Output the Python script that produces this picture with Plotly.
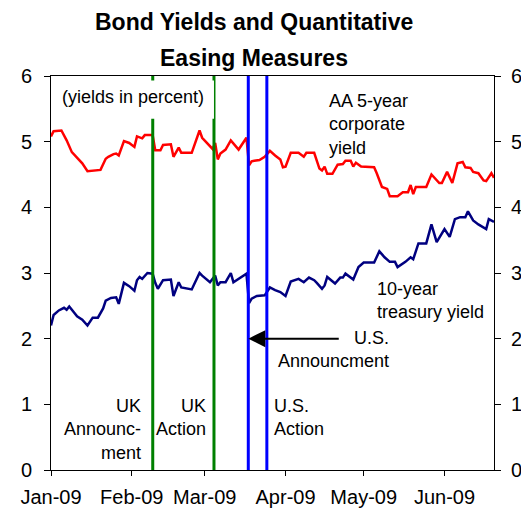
"""
Bond yields and quantitative easing measures, Jan-Jun 2009.
"""

import plotly.graph_objects as go

# AA 5-year corporate yield (percent)
corp_dates = [
    "2009-01-01", "2009-01-02", "2009-01-05", "2009-01-06", "2009-01-07", "2009-01-09",
    "2009-01-11", "2009-01-13", "2009-01-15", "2009-01-20", "2009-01-22", "2009-01-23",
    "2009-01-25", "2009-01-26", "2009-01-27", "2009-01-29", "2009-01-31", "2009-02-02",
    "2009-02-03", "2009-02-05", "2009-02-06", "2009-02-09", "2009-02-10", "2009-02-12",
    "2009-02-13", "2009-02-16", "2009-02-17", "2009-02-19", "2009-02-20", "2009-02-24",
    "2009-02-27", "2009-02-28", "2009-03-04", "2009-03-05", "2009-03-06", "2009-03-07",
    "2009-03-09", "2009-03-11", "2009-03-14", "2009-03-17", "2009-03-18", "2009-03-19",
    "2009-03-20", "2009-03-22", "2009-03-24", "2009-03-26", "2009-03-28", "2009-03-30",
    "2009-03-31", "2009-04-01", "2009-04-03", "2009-04-06", "2009-04-08", "2009-04-09",
    "2009-04-12", "2009-04-14", "2009-04-15", "2009-04-16", "2009-04-17", "2009-04-19",
    "2009-04-21", "2009-04-23", "2009-04-24", "2009-04-26", "2009-04-27", "2009-04-28",
    "2009-04-30", "2009-05-05", "2009-05-06", "2009-05-08", "2009-05-10", "2009-05-11",
    "2009-05-14", "2009-05-16", "2009-05-18", "2009-05-19", "2009-05-20", "2009-05-21",
    "2009-05-25", "2009-05-27", "2009-05-30", "2009-05-31", "2009-06-02", "2009-06-04",
    "2009-06-06", "2009-06-08", "2009-06-09", "2009-06-11", "2009-06-12", "2009-06-14",
    "2009-06-16", "2009-06-17", "2009-06-19", "2009-06-20",
]
corp_yield = [
    5.08, 5.16, 5.17, 5.10, 5.02, 4.84,
    4.76, 4.67, 4.55, 4.57, 4.74, 4.77,
    4.81, 4.82, 4.79, 5.01, 4.98, 4.92,
    5.08, 5.05, 5.10, 5.10, 4.87, 4.87,
    4.95, 4.96, 4.77, 4.91, 4.83, 4.83,
    5.17, 5.06, 4.89, 4.98, 4.73, 4.82,
    4.88, 5.02, 4.88, 5.06, 4.64, 4.70,
    4.71, 4.72, 4.77, 4.86, 4.79, 4.73,
    4.61, 4.62, 4.83, 4.83, 4.77, 4.83,
    4.83, 4.59, 4.56, 4.62, 4.51, 4.51,
    4.65, 4.66, 4.71, 4.71, 4.62, 4.68,
    4.62, 4.61, 4.52, 4.31, 4.28, 4.17,
    4.17, 4.23, 4.23, 4.34, 4.20, 4.31,
    4.31, 4.50, 4.37, 4.37, 4.54, 4.37,
    4.67, 4.69, 4.61, 4.60, 4.54, 4.52,
    4.41, 4.40, 4.52, 4.45,
]

# 10-year treasury yield (percent)
tsy_dates = [
    "2009-01-01", "2009-01-02", "2009-01-04", "2009-01-06", "2009-01-07", "2009-01-08",
    "2009-01-10", "2009-01-11", "2009-01-13", "2009-01-15", "2009-01-17", "2009-01-19",
    "2009-01-21", "2009-01-22", "2009-01-24", "2009-01-26", "2009-01-27", "2009-01-29",
    "2009-01-31", "2009-02-02", "2009-02-03", "2009-02-04", "2009-02-05", "2009-02-07",
    "2009-02-09", "2009-02-10", "2009-02-11", "2009-02-13", "2009-02-16", "2009-02-17",
    "2009-02-19", "2009-02-20", "2009-02-24", "2009-02-27", "2009-02-28", "2009-03-03",
    "2009-03-05", "2009-03-06", "2009-03-07", "2009-03-09", "2009-03-11", "2009-03-12",
    "2009-03-17", "2009-03-18", "2009-03-19", "2009-03-21", "2009-03-24", "2009-03-26",
    "2009-03-28", "2009-03-30", "2009-04-01", "2009-04-03", "2009-04-06", "2009-04-08",
    "2009-04-10", "2009-04-12", "2009-04-13", "2009-04-15", "2009-04-16", "2009-04-17",
    "2009-04-20", "2009-04-22", "2009-04-23", "2009-04-24", "2009-04-27", "2009-04-29",
    "2009-05-01", "2009-05-05", "2009-05-07", "2009-05-09", "2009-05-11", "2009-05-13",
    "2009-05-14", "2009-05-17", "2009-05-19", "2009-05-20", "2009-05-22", "2009-05-25",
    "2009-05-27", "2009-05-29", "2009-06-01", "2009-06-03", "2009-06-05", "2009-06-07",
    "2009-06-09", "2009-06-10", "2009-06-12", "2009-06-14", "2009-06-17", "2009-06-18",
    "2009-06-20",
]
tsy_yield = [
    2.20, 2.36, 2.43, 2.47, 2.44, 2.49,
    2.39, 2.34, 2.29, 2.20, 2.32, 2.32,
    2.46, 2.58, 2.62, 2.63, 2.53, 2.85,
    2.80, 2.73, 2.89, 2.94, 2.91, 3.00,
    2.99, 2.85, 2.76, 2.89, 2.90, 2.65,
    2.86, 2.78, 2.75, 3.00, 2.96, 2.86,
    2.96, 2.81, 2.86, 2.86, 3.00, 2.86,
    2.99, 2.54, 2.61, 2.65, 2.66, 2.78,
    2.74, 2.71, 2.65, 2.87, 2.91, 2.86,
    2.93, 2.89, 2.85, 2.76, 2.81, 2.94,
    2.84, 2.93, 2.93, 2.99, 2.90, 3.09,
    3.16, 3.16, 3.33, 3.24, 3.17, 3.17,
    3.09, 3.17, 3.24, 3.21, 3.45, 3.45,
    3.74, 3.47, 3.67, 3.55, 3.82, 3.85,
    3.85, 3.94, 3.80, 3.74, 3.67, 3.82,
    3.78,
]

# QE event dates
uk_events = ["2009-02-09 01:00", "2009-03-04 13:00"]
us_events = ["2009-03-17 17:00", "2009-03-24 20:00"]

FONT = "Arial, Liberation Sans, sans-serif"

fig = go.Figure()

fig.add_trace(go.Scatter(
    x=corp_dates, y=corp_yield, mode="lines",
    line=dict(color="#FF0000", width=2.5), name="AA 5-year corporate yield",
))
# Treasury line sits on the right-hand axis (same 0-6 scale) so that axis is drawn
fig.add_trace(go.Scatter(
    x=tsy_dates, y=tsy_yield, mode="lines", yaxis="y2",
    line=dict(color="#000080", width=2.5), name="10-year treasury yield",
))

# Event lines
for d in uk_events:
    fig.add_shape(type="line", xref="x", yref="y", x0=d, x1=d, y0=0, y1=6,
                  line=dict(color="#008000", width=3))
for d in us_events:
    fig.add_shape(type="line", xref="x", yref="y", x0=d, x1=d, y0=0, y1=6,
                  line=dict(color="#0000FF", width=3))

# White box behind the units label
fig.add_shape(type="rect", xref="x", yref="y", x0="2009-01-01", x1=uk_events[1],
              y0=5.35, y1=5.93, fillcolor="white", line_width=0)

# Title, two lines
for text, y in [("Bond Yields and Quantitative", 1.136), ("Easing Measures", 1.045)]:
    fig.add_annotation(text=f"<b>{text}</b>", x=0.458, y=y, xref="paper", yref="paper",
                       xanchor="center", yanchor="middle", showarrow=False,
                       font=dict(family=FONT, size=23, color="black"))

txt = dict(family=FONT, size=18, color="black")
notes = [
    ("(yields in percent)", 0.02, 0.946, "left", "left"),
    ("AA 5-year<br>corporate<br>yield", 0.623, 0.877, "left", "left"),
    ("10-year<br>treasury yield", 0.731, 0.431, "left", "left"),
    ("U.S.<br>Announcment", 0.7675, 0.305, "right", "right"),
    ("UK<br>Announc-<br>ment", 0.2077, 0.103, "right", "right"),
    ("UK<br>Action", 0.354, 0.134, "right", "right"),
    ("U.S.<br>Action", 0.4996, 0.134, "left", "left"),
]
for text, x, y, anchor, align in notes:
    fig.add_annotation(text=text, x=x, y=y, xref="paper", yref="paper",
                       xanchor=anchor, yanchor="middle", align=align,
                       showarrow=False, font=txt)

# Arrow pointing at the U.S. announcement
fig.add_annotation(x=us_events[0], y=2, ax="2009-04-22", ay=2,
                   xref="x", yref="y", axref="x", ayref="y", text="",
                   showarrow=True, arrowhead=2, arrowsize=1.7, arrowwidth=2,
                   arrowcolor="black")

axis_font = dict(family=FONT, size=20, color="black")

fig.update_layout(
    width=521, height=512,
    margin=dict(l=51, r=27, t=76, b=42),
    plot_bgcolor="white", paper_bgcolor="white",
    showlegend=False,
    xaxis=dict(
        range=["2009-01-01", "2009-06-20"],
        tickformat="%b-%y", dtick="M1", tick0="2009-01-01",
        ticks="outside", ticklen=5, tickcolor="black",
        showline=True, linecolor="black", linewidth=1, mirror=True,
        showgrid=False, zeroline=False, tickfont=axis_font,
        ticklabelstandoff=4, automargin=False,
    ),
    yaxis=dict(
        range=[0, 6], dtick=1, ticks="outside", ticklen=6, tickcolor="black",
        showline=True, linecolor="black", linewidth=1,
        showgrid=False, zeroline=False, tickfont=axis_font,
        ticklabelstandoff=8, automargin=False,
    ),
    yaxis2=dict(
        range=[0, 6], dtick=1, overlaying="y", side="right",
        ticks="outside", ticklen=6, tickcolor="black",
        showline=True, linecolor="black", linewidth=1,
        showgrid=False, zeroline=False, tickfont=axis_font,
        ticklabelstandoff=6, automargin=False,
    ),
)

# Drop the default page margin so the figure fills the window exactly
fig.write_html(
    "out.html",
    config={"displayModeBar": False},
    post_script="document.body.style.margin='0';document.body.style.overflow='hidden';",
)
